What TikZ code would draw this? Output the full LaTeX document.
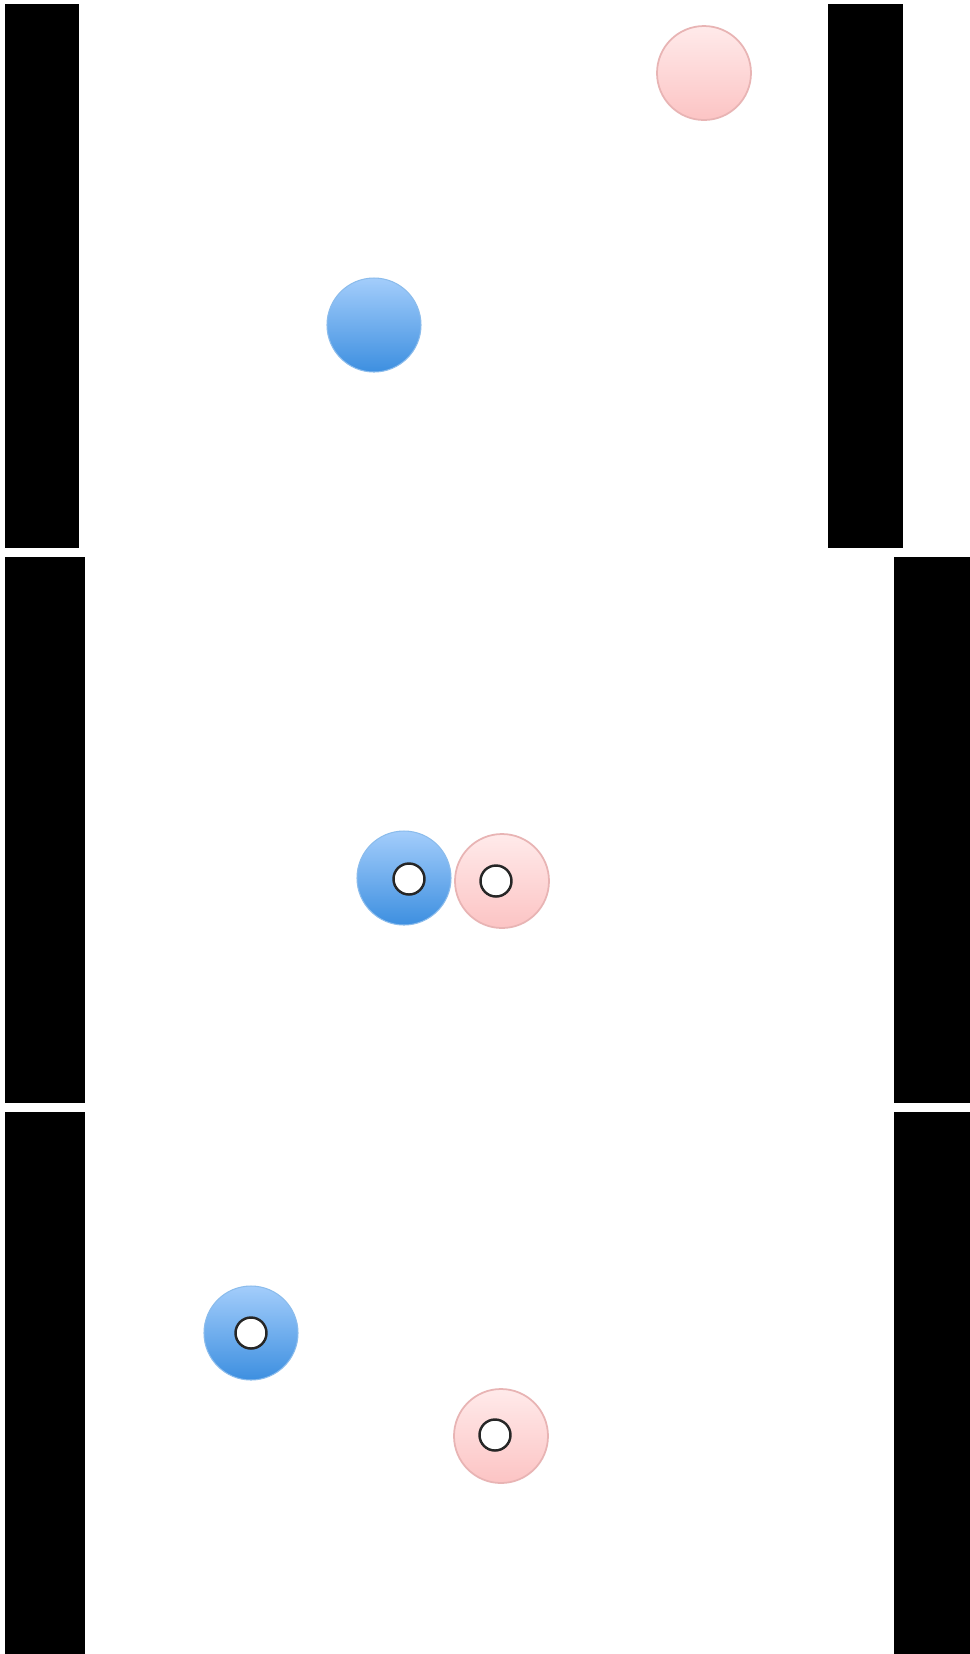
\documentclass[tikz,border=0pt]{standalone}
\usetikzlibrary{positioning}

\definecolor{bluetop}{HTML}{A3CDFB}
\definecolor{bluebot}{HTML}{3D8FE0}
\definecolor{pinktop}{HTML}{FFEAEA}
\definecolor{pinkbot}{HTML}{FCC4C4}
\definecolor{pinkrim}{HTML}{E8B4B4}

\tikzset{
  ball/.style={circle, minimum size=9.4mm, inner sep=0pt},
  blueball/.style={ball, top color=bluetop, bottom color=bluebot, draw=bluebot!60, line width=0.3pt},
  pinkball/.style={ball, top color=pinktop, bottom color=pinkbot, draw=pinkrim, line width=0.5pt},
  hole/.style={circle, minimum size=3.1mm, inner sep=0pt, draw=black!85, line width=0.7pt, fill=white}
}

\begin{document}
\begin{tikzpicture}[x=0.1mm, y=-0.1mm]
  \useasboundingbox (0,0) rectangle (970,1654);
  \fill[white] (0,0) rectangle (970,1654);

  % walls
  \fill (5,4) rectangle (79,548);
  \fill (828,4) rectangle (903,548);
  \fill (5,557) rectangle (85,1103);
  \fill (894,557) rectangle (970,1103);
  \fill (5,1112) rectangle (85,1654);
  \fill (894,1112) rectangle (970,1654);

  % before
  \node[pinkball] (p1) at (704,73) {};
  \node[blueball] (b1) at (374,325) {};

  % contact
  \node[blueball] (b2) at (404,878) {};
  \node[pinkball] (p2) at (502,881) {};
  \node[hole] (hb2) at (409,879) {};
  \node[hole] (hp2) at (496,881) {};

  % after
  \node[blueball] (b3) at (251,1333) {};
  \node[pinkball] (p3) at (501,1436) {};
  \node[hole] (hb3) at (251,1333) {};
  \node[hole] (hp3) at (495,1435) {};
\end{tikzpicture}
\end{document}
